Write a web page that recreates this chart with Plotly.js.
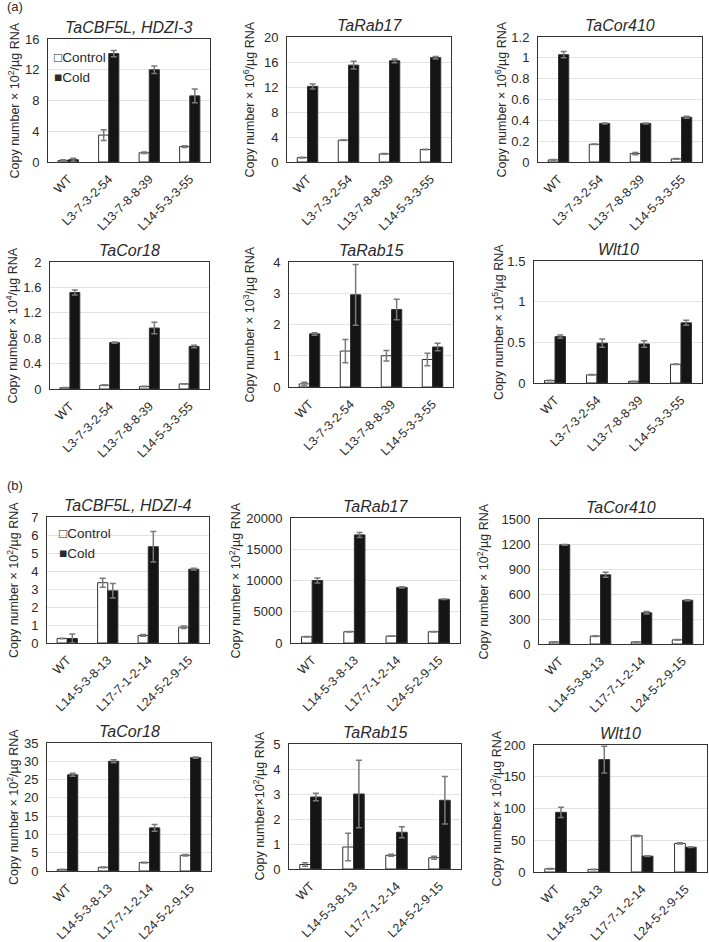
<!DOCTYPE html>
<html><head><meta charset="utf-8">
<script src="https://cdn.plot.ly/plotly-3.0.1.min.js"></script>
<style>html,body{margin:0;padding:0;background:#fff;}#chart{width:709px;height:942px;}</style>
</head><body><div id="chart"></div>
<script>
// ---------- DATA ----------
const linesA = ["WT", "L3-7-3-2-54", "L13-7-8-8-39", "L14-5-3-3-55"];
const linesB = ["WT", "L14-5-3-8-13", "L17-7-1-2-14", "L24-5-2-9-15"];
const seriesNames = ["Control", "Cold"];

// (a) panels
const a1Title = "TaCBF5L, HDZI-3";
const a1Ctrl = [0.2, 3.5, 1.2, 2.0];     const a1CtrlErr = [0.1, 0.7, 0.1, 0.1];
const a1Cold = [0.3, 14.1, 12.0, 8.6];   const a1ColdErr = [0.2, 0.4, 0.5, 0.9];

const a2Title = "TaRab17";
const a2Ctrl = [0.7, 3.5, 1.3, 2.0];     const a2CtrlErr = [0.05, 0.05, 0.05, 0.05];
const a2Cold = [12.1, 15.5, 16.2, 16.7]; const a2ColdErr = [0.4, 0.6, 0.3, 0.2];

const a3Title = "TaCor410";
const a3Ctrl = [0.02, 0.17, 0.08, 0.03]; const a3CtrlErr = [0.003, 0.003, 0.01, 0.003];
const a3Cold = [1.03, 0.37, 0.37, 0.43]; const a3ColdErr = [0.03, 0.005, 0.005, 0.01];

const a4Title = "TaCor18";
const a4Ctrl = [0.02, 0.06, 0.04, 0.08]; const a4CtrlErr = [0.003, 0.005, 0.005, 0.003];
const a4Cold = [1.52, 0.73, 0.96, 0.67]; const a4ColdErr = [0.04, 0.01, 0.09, 0.02];

const a5Title = "TaRab15";
const a5Ctrl = [0.1, 1.15, 1.0, 0.88];   const a5CtrlErr = [0.05, 0.37, 0.17, 0.2];
const a5Cold = [1.7, 2.95, 2.48, 1.28];  const a5ColdErr = [0.04, 0.97, 0.33, 0.12];

const a6Title = "Wlt10";
const a6Ctrl = [0.03, 0.1, 0.02, 0.23];  const a6CtrlErr = [0.003, 0.003, 0.003, 0.003];
const a6Cold = [0.57, 0.49, 0.48, 0.74]; const a6ColdErr = [0.02, 0.05, 0.04, 0.03];

// (b) panels
const b1Title = "TaCBF5L, HDZI-4";
const b1Ctrl = [0.25, 3.35, 0.42, 0.88]; const b1CtrlErr = [0.02, 0.25, 0.05, 0.07];
const b1Cold = [0.25, 2.9, 5.35, 4.1];   const b1ColdErr = [0.25, 0.4, 0.85, 0.05];

const b2Title = "TaRab17";
const b2Ctrl = [1000, 1800, 1100, 1800]; const b2CtrlErr = [30, 30, 30, 30];
const b2Cold = [10000, 17300, 8900, 7000]; const b2ColdErr = [400, 400, 100, 50];

const b3Title = "TaCor410";
const b3Ctrl = [25, 95, 25, 50];         const b3CtrlErr = [3, 5, 3, 3];
const b3Cold = [1190, 830, 375, 525];    const b3ColdErr = [5, 30, 15, 5];

const b4Title = "TaCor18";
const b4Ctrl = [0.4, 1.0, 2.3, 4.3];     const b4CtrlErr = [0.05, 0.1, 0.1, 0.2];
const b4Cold = [26.3, 30.0, 11.8, 31.0]; const b4ColdErr = [0.4, 0.4, 0.9, 0.2];

const b5Title = "TaRab15";
const b5Ctrl = [0.18, 0.88, 0.55, 0.45]; const b5CtrlErr = [0.07, 0.55, 0.04, 0.06];
const b5Cold = [2.88, 3.0, 1.47, 2.75];  const b5ColdErr = [0.15, 1.35, 0.22, 0.95];

const b6Title = "Wlt10";
const b6Ctrl = [5, 4, 57, 45];           const b6CtrlErr = [0.5, 0.5, 1, 1];
const b6Cold = [94, 177, 25, 39];        const b6ColdErr = [8, 21, 0.5, 0.5];

const yTitles = [
  "Copy number × 10<sup>2</sup>/µg RNA", "Copy number × 10<sup>6</sup>/µg RNA", "Copy number × 10<sup>6</sup>/µg RNA",
  "Copy number × 10<sup>4</sup>/µg RNA", "Copy number × 10<sup>3</sup>/µg RNA", "Copy number × 10<sup>5</sup>/µg RNA",
  "Copy number × 10<sup>2</sup>/µg RNA", "Copy number × 10<sup>2</sup>/µg RNA", "Copy number × 10<sup>2</sup>/µg RNA",
  "Copy number × 10<sup>2</sup>/µg RNA", "Copy number×10<sup>2</sup>/µg RNA", "Copy number × 10<sup>2</sup>/µg RNA"
];

// ---------- LAYOUT CONFIG ----------
const W = 709, H = 942;
const panels = [
  {cats: linesA, t: a1Title, c: a1Ctrl, ce: a1CtrlErr, d: a1Cold, de: a1ColdErr, r: [0,16], dt: 4, box: [48,210,39,162], ytx: 13, leg: [52, 58, 78]},
  {cats: linesA, t: a2Title, c: a2Ctrl, ce: a2CtrlErr, d: a2Cold, de: a2ColdErr, r: [0,20], dt: 4, box: [287,451,37,162], ytx: 248},
  {cats: linesA, t: a3Title, c: a3Ctrl, ce: a3CtrlErr, d: a3Cold, de: a3ColdErr, r: [0,1.2], dt: 0.2, box: [538,702,37,162], ytx: 500},
  {cats: linesA, t: a4Title, c: a4Ctrl, ce: a4CtrlErr, d: a4Cold, de: a4ColdErr, r: [0,2], dt: 0.4, box: [50,209,262,389], ytx: 11},
  {cats: linesA, t: a5Title, c: a5Ctrl, ce: a5CtrlErr, d: a5Cold, de: a5ColdErr, r: [0,4], dt: 1, box: [289,453,262,387], ytx: 248},
  {cats: linesA, t: a6Title, c: a6Ctrl, ce: a6CtrlErr, d: a6Cold, de: a6ColdErr, r: [0,1.5], dt: 0.5, box: [534,702,261,383], ytx: 498},
  {cats: linesB, t: b1Title, c: b1Ctrl, ce: b1CtrlErr, d: b1Cold, de: b1ColdErr, r: [0,7], dt: 1, box: [47,209,517,643], ytx: 13, leg: [57, 533, 553]},
  {cats: linesB, t: b2Title, c: b2Ctrl, ce: b2CtrlErr, d: b2Cold, de: b2ColdErr, r: [0,20000], dt: 5000, box: [291,460,518,643], ytx: 234, fmt: "d"},
  {cats: linesB, t: b3Title, c: b3Ctrl, ce: b3CtrlErr, d: b3Cold, de: b3ColdErr, r: [0,1500], dt: 300, box: [539,703,519,644], ytx: 482},
  {cats: linesB, t: b4Title, c: b4Ctrl, ce: b4CtrlErr, d: b4Cold, de: b4ColdErr, r: [0,35], dt: 5, box: [47,211,743,871], ytx: 13},
  {cats: linesB, t: b5Title, c: b5Ctrl, ce: b5CtrlErr, d: b5Cold, de: b5ColdErr, r: [0,5], dt: 1, box: [289,461,744,869], ytx: 258},
  {cats: linesB, t: b6Title, c: b6Ctrl, ce: b6CtrlErr, d: b6Cold, de: b6ColdErr, r: [0,200], dt: 50, box: [534,707,745,872], ytx: 495}
];

const FONT = "Liberation Sans, Arial, sans-serif";
const TXT = "#2a2a2a";
const fx = p => p / W;
const fy = p => 1 - p / H;

const traces = [];
const layout = {
  width: W, height: H,
  margin: {l: 0, r: 0, t: 0, b: 0},
  paper_bgcolor: "#fff", plot_bgcolor: "#fff",
  font: {family: FONT, color: TXT, size: 13},
  barmode: "group", bargap: 0.5, bargroupgap: 0,
  showlegend: false,
  annotations: []
};

const errStyle = arr => ({type: "data", array: arr, visible: true, color: "#7a7a7a", thickness: 1.5, width: 3});

panels.forEach((p, i) => {
  const n = i + 1;
  const xa = n === 1 ? "x" : "x" + n;
  const ya = n === 1 ? "y" : "y" + n;
  const [l, r, t, b] = p.box;
  traces.push({
    type: "bar", x: p.cats, y: p.c, name: seriesNames[0], xaxis: xa, yaxis: ya,
    marker: {color: "#ffffff", line: {color: "#333", width: 1}},
    error_y: errStyle(p.ce)
  });
  traces.push({
    type: "bar", x: p.cats, y: p.d, name: seriesNames[1], xaxis: xa, yaxis: ya,
    marker: {color: "#151515", line: {color: "#333", width: 1}},
    error_y: errStyle(p.de)
  });
  const xk = n === 1 ? "xaxis" : "xaxis" + n;
  const yk = n === 1 ? "yaxis" : "yaxis" + n;
  layout[xk] = {
    domain: [fx(l), fx(r)], anchor: ya, type: "category",
    tickangle: -45, tickfont: {size: 12.5, color: TXT, family: FONT},
    showline: true, mirror: true, linecolor: "#333", linewidth: 1,
    ticks: "", showgrid: false, fixedrange: true, ticklabelstandoff: 4
  };
  layout[yk] = {
    domain: [fy(b), fy(t)], anchor: xa, range: p.r, dtick: p.dt, tick0: 0,
    tickfont: {size: 13, color: TXT, family: FONT},
    showline: true, mirror: true, linecolor: "#333", linewidth: 1,
    ticks: "", showgrid: true, gridcolor: "#e3e3e3", gridwidth: 1,
    zeroline: false, fixedrange: true, ticklabelstandoff: 5
  };
  if (p.fmt) layout[yk].tickformat = p.fmt;
  // panel title
  layout.annotations.push({
    text: p.t, xref: "paper", yref: "paper", x: fx((l + r) / 2), y: fy(t - 1),
    xanchor: "center", yanchor: "bottom", showarrow: false,
    font: {size: 16, family: FONT, color: TXT, style: "italic"}
  });
  // y-axis title
  layout.annotations.push({
    text: yTitles[i], xref: "paper", yref: "paper", x: fx(p.ytx), y: fy((t + b) / 2),
    xanchor: "center", yanchor: "middle", textangle: -90, showarrow: false,
    font: {size: 12.5, family: FONT, color: TXT}
  });
  // legend (as in the figure: glyph + label inside the first panel of each group)
  if (p.leg) {
    const glyphs = ["□", "■"];
    seriesNames.forEach((s, k) => {
      layout.annotations.push({
        text: glyphs[k] + s, xref: "paper", yref: "paper", x: fx(p.leg[0]), y: fy(p.leg[1 + k]),
        xanchor: "left", yanchor: "middle", showarrow: false,
        font: {size: 13.5, family: FONT, color: TXT}
      });
    });
  }
});

layout.annotations.push({text: "(a)", xref: "paper", yref: "paper", x: fx(5), y: fy(7), xanchor: "left", yanchor: "middle", showarrow: false, font: {size: 13, color: TXT}});
layout.annotations.push({text: "(b)", xref: "paper", yref: "paper", x: fx(5), y: fy(485), xanchor: "left", yanchor: "middle", showarrow: false, font: {size: 13, color: TXT}});

Plotly.newPlot("chart", traces, layout, {staticPlot: true, displayModeBar: false});
</script>
</body></html>
